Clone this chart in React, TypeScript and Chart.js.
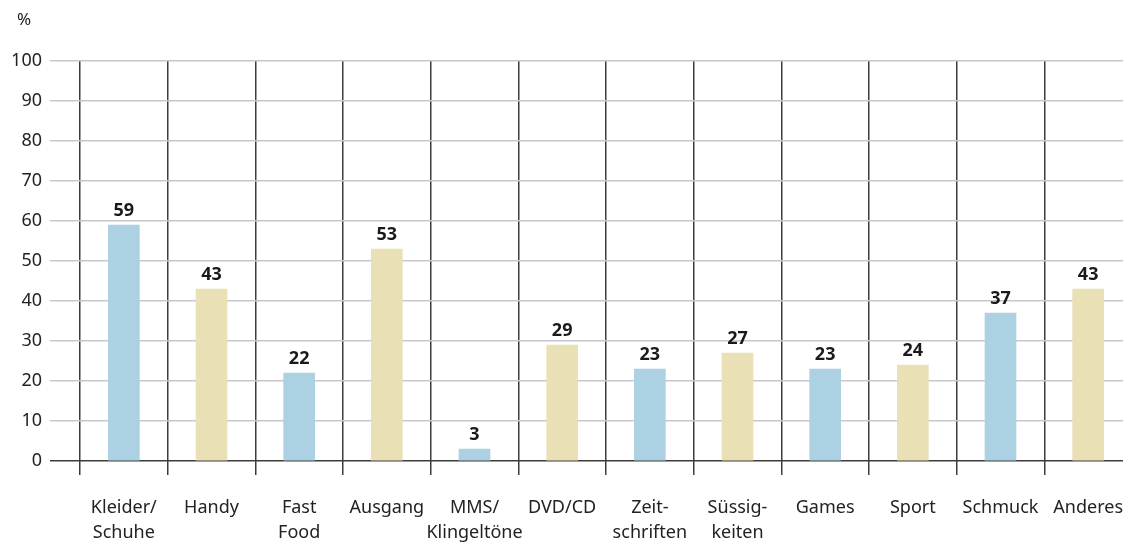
import React, { useEffect, useRef } from "react";
import { Chart, registerables } from "chart.js";

Chart.register(...registerables);

const categories: (string | string[])[] = [
  ["Kleider/", "Schuhe"],
  "Handy",
  ["Fast", "Food"],
  "Ausgang",
  ["MMS/", "Klingeltöne"],
  "DVD/CD",
  ["Zeit-", "schriften"],
  ["Süssig-", "keiten"],
  "Games",
  "Sport",
  "Schmuck",
  "Anderes",
];
const values = [59, 43, 22, 53, 3, 29, 23, 27, 23, 24, 37, 43];
const yTicks = [0, 10, 20, 30, 40, 50, 60, 70, 80, 90, 100];
const unitLabel = "%";

const BLUE = "rgb(171,209,226)";
const BEIGE = "rgb(233,224,182)";
const FONT = "'Noto Sans', sans-serif";

export default function App() {
  const ref = useRef<HTMLCanvasElement | null>(null);
  useEffect(() => {
    if (!ref.current) return;
    const labelPlugin = {
      id: "valueLabels",
      afterDatasetsDraw(chart: any) {
        const ctx = chart.ctx;
        const meta = chart.getDatasetMeta(0);
        ctx.save();
        ctx.font = `bold 18px ${FONT}`;
        ctx.fillStyle = "#1a1a1a";
        ctx.textAlign = "center";
        ctx.textBaseline = "bottom";
        meta.data.forEach((el: any, i: number) => {
          ctx.fillText(String(values[i]), el.x, el.y - 5);
        });
        ctx.font = `17px ${FONT}`;
        ctx.fillStyle = "#222";
        ctx.textBaseline = "middle";
        ctx.fillText(unitLabel, 24, 20);
        ctx.restore();
      },
    };
    const chart = new Chart(ref.current, {
      type: "bar",
      data: {
        labels: categories,
        datasets: [
          {
            data: values,
            backgroundColor: values.map((_, i) => (i % 2 === 0 ? BLUE : BEIGE)),
            barThickness: 31,
            borderWidth: 0,
          },
        ],
      },
      options: {
        responsive: false,
        animation: false,
        layout: { padding: { left: 0, right: 8, top: 61, bottom: 0 } },
        plugins: { legend: { display: false }, tooltip: { enabled: false } },
        scales: {
          x: {
            offset: true,
            afterFit: (scale: any) => {
              scale.height = 81;
              scale.paddingLeft = 0;
              scale.paddingRight = 0;
            },
            border: { display: false },
            grid: {
              offset: true,
              color: "#3c3c3c",
              lineWidth: 1.5,
              tickLength: 14,
              drawOnChartArea: true,
            },
            ticks: {
              color: "#222",
              padding: 20,
              maxRotation: 0,
              autoSkip: false,
              font: { family: FONT, size: 18, lineHeight: 1.4 },
            },
          },
          y: {
            min: 0,
            max: 100,
            afterFit: (scale: any) => {
              scale.width = 80;
              scale.paddingTop = 0;
              scale.paddingBottom = 0;
            },
            afterBuildTicks: (scale: any) => {
              scale.ticks = yTicks.map((v) => ({ value: v }));
            },
            border: { display: false },
            grid: {
              color: (c: any) => (c.tick && c.tick.value === 0 ? "#3c3c3c" : "#c8c8cc"),
              lineWidth: 1.5,
              tickLength: 30,
            },
            ticks: {
              color: "#222",
              padding: 8,
              font: { family: FONT, size: 18 },
            },
          },
        },
      },
      plugins: [labelPlugin],
    });
    return () => chart.destroy();
  }, []);
  return (
    <div style={{ position: "absolute", left: 0, top: 0, width: 1123, height: 542, overflow: "hidden" }}>
      <canvas ref={ref} width={1140} height={542} style={{ display: "block" }} />
    </div>
  );
}
